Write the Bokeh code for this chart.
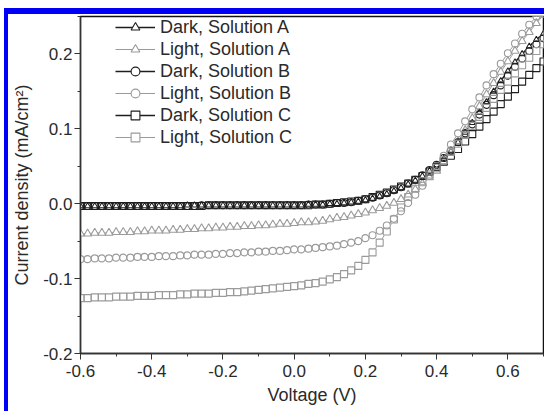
from bokeh.plotting import figure
from bokeh.models import (Range1d, FixedTicker, NumeralTickFormatter,
                          Legend, LegendItem, Spacer)
from bokeh.layouts import column, row
from bokeh.embed import file_html
from bokeh.resources import INLINE

# Applied voltage (V)
voltage = [-0.60, -0.58, -0.56, -0.54, -0.52, -0.50, -0.48, -0.46, -0.44, -0.42,
           -0.40, -0.38, -0.36, -0.34, -0.32, -0.30, -0.28, -0.26, -0.24, -0.22,
           -0.20, -0.18, -0.16, -0.14, -0.12, -0.10, -0.08, -0.06, -0.04, -0.02,
           0.00, 0.02, 0.04, 0.06, 0.08, 0.10, 0.12, 0.14, 0.16, 0.18,
           0.20, 0.22, 0.24, 0.26, 0.28, 0.30, 0.32, 0.34, 0.36, 0.38,
           0.40, 0.42, 0.44, 0.46, 0.48, 0.50, 0.52, 0.54, 0.56, 0.58,
           0.60, 0.62, 0.64, 0.66, 0.68, 0.70]

# Current density (mA/cm^2)
dark_a = [-0.003, -0.003, -0.003, -0.003, -0.003, -0.003, -0.003, -0.003, -0.003, -0.003,
          -0.003, -0.003, -0.003, -0.003, -0.003, -0.002, -0.002, -0.002, -0.002, -0.002,
          -0.002, -0.002, -0.002, -0.002, -0.002, -0.002, -0.002, -0.002, -0.002, -0.002,
          -0.002, -0.002, -0.001, -0.001, -0.001, 0.000, 0.000, 0.001, 0.002, 0.003,
          0.005, 0.007, 0.010, 0.013, 0.017, 0.021, 0.026, 0.031, 0.037, 0.044,
          0.052, 0.060, 0.070, 0.082, 0.095, 0.108, 0.122, 0.136, 0.150, 0.164,
          0.177, 0.189, 0.200, 0.210, 0.219, 0.227]
dark_b = [-0.003, -0.003, -0.003, -0.003, -0.003, -0.003, -0.003, -0.003, -0.003, -0.003,
          -0.003, -0.003, -0.003, -0.003, -0.003, -0.003, -0.003, -0.002, -0.002, -0.002,
          -0.002, -0.002, -0.002, -0.002, -0.002, -0.002, -0.002, -0.002, -0.002, -0.002,
          -0.002, -0.002, -0.001, -0.001, -0.001, 0.000, 0.001, 0.001, 0.002, 0.004,
          0.006, 0.008, 0.011, 0.014, 0.018, 0.022, 0.027, 0.032, 0.038, 0.045,
          0.052, 0.061, 0.071, 0.082, 0.094, 0.106, 0.119, 0.132, 0.145, 0.158,
          0.171, 0.183, 0.194, 0.204, 0.213, 0.221]
dark_c = [-0.003, -0.003, -0.003, -0.003, -0.003, -0.003, -0.003, -0.003, -0.003, -0.003,
          -0.003, -0.003, -0.003, -0.003, -0.003, -0.003, -0.003, -0.003, -0.002, -0.002,
          -0.002, -0.002, -0.002, -0.002, -0.002, -0.002, -0.002, -0.002, -0.002, -0.002,
          -0.002, -0.002, -0.002, -0.001, -0.001, 0.000, 0.001, 0.002, 0.003, 0.004,
          0.006, 0.009, 0.012, 0.015, 0.019, 0.023, 0.027, 0.032, 0.037, 0.043,
          0.049, 0.056, 0.064, 0.073, 0.083, 0.093, 0.103, 0.113, 0.123, 0.133,
          0.143, 0.153, 0.163, 0.172, 0.181, 0.190]
light_a = [-0.040, -0.040, -0.039, -0.039, -0.039, -0.038, -0.038, -0.038, -0.037, -0.037,
           -0.036, -0.036, -0.036, -0.035, -0.035, -0.034, -0.034, -0.033, -0.033, -0.032,
           -0.032, -0.031, -0.031, -0.030, -0.030, -0.029, -0.029, -0.028, -0.027, -0.027,
           -0.026, -0.025, -0.025, -0.024, -0.023, -0.021, -0.019, -0.018, -0.016, -0.014,
           -0.012, -0.009, -0.006, -0.003, 0.001, 0.006, 0.012, 0.019, 0.027, 0.035,
           0.044, 0.056, 0.069, 0.083, 0.098, 0.114, 0.130, 0.146, 0.161, 0.176,
           0.190, 0.204, 0.217, 0.229, 0.241, 0.252]
light_b = [-0.074, -0.074, -0.073, -0.073, -0.073, -0.072, -0.072, -0.072, -0.071, -0.071,
           -0.071, -0.070, -0.070, -0.070, -0.069, -0.069, -0.068, -0.068, -0.068, -0.067,
           -0.067, -0.066, -0.066, -0.065, -0.065, -0.064, -0.064, -0.063, -0.063, -0.062,
           -0.061, -0.061, -0.060, -0.059, -0.058, -0.057, -0.056, -0.054, -0.052, -0.050,
           -0.046, -0.042, -0.036, -0.029, -0.020, -0.010, 0.001, 0.012, 0.024, 0.037,
           0.050, 0.064, 0.079, 0.094, 0.110, 0.126, 0.142, 0.158, 0.173, 0.187,
           0.201, 0.214, 0.227, 0.239, 0.250, 0.261]
light_c = [-0.126, -0.126, -0.125, -0.125, -0.125, -0.124, -0.124, -0.124, -0.123, -0.123,
           -0.123, -0.122, -0.122, -0.122, -0.121, -0.121, -0.120, -0.120, -0.120, -0.119,
           -0.119, -0.118, -0.118, -0.117, -0.116, -0.115, -0.114, -0.113, -0.112, -0.111,
           -0.110, -0.109, -0.107, -0.106, -0.104, -0.101, -0.098, -0.094, -0.089, -0.083,
           -0.075, -0.065, -0.052, -0.037, -0.021, -0.005, 0.009, 0.020, 0.030, 0.039,
           0.048, 0.058, 0.069, 0.080, 0.092, 0.104, 0.116, 0.128, 0.140, 0.152,
           0.163, 0.174, 0.185, 0.195, 0.204, 0.213]

labels = ["Dark, Solution A", "Light, Solution A", "Dark, Solution B",
          "Light, Solution B", "Dark, Solution C", "Light, Solution C"]
series = [dark_a, light_a, dark_b, light_b, dark_c, light_c]
markers = ["triangle", "triangle", "circle", "circle", "square", "square"]

# Axis ticks
x_ticks = [-0.6, -0.4, -0.2, 0.0, 0.2, 0.4, 0.6]
x_minor = [-0.5, -0.3, -0.1, 0.1, 0.3, 0.5, 0.7]
y_ticks = [-0.2, -0.1, 0.0, 0.1, 0.2]
y_minor = [-0.15, -0.05, 0.05, 0.15, 0.25]

FONT = "Liberation Sans"
DARK = "#1e1e1e"
LIGHT = "#9a9a9a"
BLUE = "#0000f6"

p = figure(frame_width=463, frame_height=337,
           x_range=Range1d(-0.6, 0.7), y_range=Range1d(-0.2, 0.25),
           output_backend="svg", toolbar_location=None,
           min_border_left=72, min_border_right=1,
           min_border_top=2, min_border_bottom=58,
           background_fill_color="white", border_fill_color="white")

p.grid.visible = False
p.outline_line_color = "#111111"
p.outline_line_width = 1.5

p.xaxis.ticker = FixedTicker(ticks=x_ticks, minor_ticks=x_minor)
p.yaxis.ticker = FixedTicker(ticks=y_ticks, minor_ticks=y_minor)
p.xaxis.formatter = NumeralTickFormatter(format="0.0")
p.yaxis.formatter = NumeralTickFormatter(format="0.0")
p.xaxis.axis_label = "Voltage (V)"
p.yaxis.axis_label = "Current density (mA/cm²)"
for ax in (p.xaxis[0], p.yaxis[0]):
    ax.axis_line_color = "#333333"
    ax.axis_line_width = 1.3
    ax.major_tick_line_color = "#333333"
    ax.minor_tick_line_color = "#333333"
    ax.major_tick_in = 0
    ax.major_tick_out = 6
    ax.minor_tick_in = 0
    ax.minor_tick_out = 3
    ax.major_label_text_font = FONT
    ax.major_label_text_font_size = "17px"
    ax.major_label_text_color = "#2a2a2a"
    ax.axis_label_text_font = FONT
    ax.axis_label_text_font_size = "18px"
    ax.axis_label_text_font_style = "normal"
    ax.axis_label_text_color = "#2a2a2a"
p.xaxis.major_label_standoff = 5
p.xaxis.axis_label_standoff = 5
p.yaxis.major_label_standoff = 2
p.yaxis.axis_label_standoff = 8


def style(name, mk):
    dark = name.startswith("Dark")
    col = DARK if dark else LIGHT
    size = 8 if mk == "triangle" else 7
    if dark and mk == "triangle":
        size = 6
    return col, size, (1.6 if dark else 1.0)


# Line + symbol with the line gapped at each symbol: connecting lines first,
# then white symbol bodies that hide the line, then open outlines on top.
lines, bodies, outlines = [], [], []
for name, ys, mk in zip(labels, series, markers):
    col, size, lw = style(name, mk)
    lines.append(p.line(voltage, ys, line_color=col, line_width=lw))
for name, ys, mk in zip(labels, series, markers):
    col, size, lw = style(name, mk)
    bodies.append(p.scatter(voltage, ys, marker=mk, size=size + 1,
                            line_color=None, fill_color="white"))
for name, ys, mk in zip(labels, series, markers):
    col, size, lw = style(name, mk)
    outlines.append(p.scatter(voltage, ys, marker=mk, size=size, line_color=col,
                              line_width=1.1, fill_alpha=0))

items = [LegendItem(label=n, renderers=[l, b, o])
         for n, l, b, o in zip(labels, lines, bodies, outlines)]

# six rows of 22 px, top edge flush with the top of the frame
legend = Legend(items=items, location=(35, 337 - 6 * 22), orientation="vertical",
                border_line_color=None, background_fill_alpha=0,
                padding=0, margin=0, spacing=0,
                glyph_width=40, glyph_height=22, label_height=22,
                label_standoff=5, label_text_font=FONT,
                label_text_font_size="18px", label_text_color="#2a2a2a")
p.add_layout(legend)

# Blue L-shaped border at the top and left of the page
top_gap = Spacer(width=544, height=8)
left_gap = Spacer(width=4, height=403)
top_bar = Spacer(width=540, height=6, styles={"background-color": BLUE})
left_bar = Spacer(width=4, height=397, styles={"background-color": BLUE})

page = column(top_gap, row(left_gap, column(top_bar, row(left_bar, p))))

open("out.html", "w").write(file_html(page, INLINE))
